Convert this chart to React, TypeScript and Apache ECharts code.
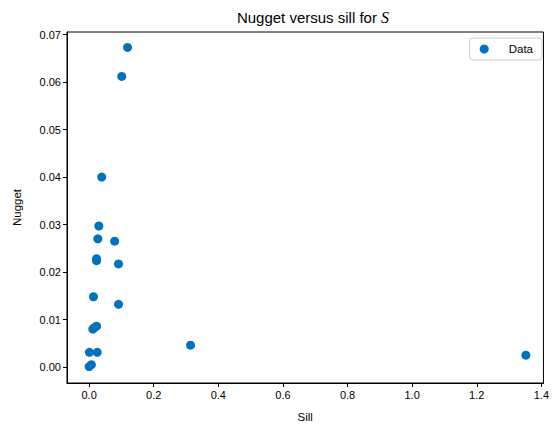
import React, { useEffect, useRef } from "react";
import * as echarts from "echarts";

const sill = [0.119, 0.101, 0.039, 0.030, 0.027, 0.079, 0.023, 0.023, 0.091, 0.0135, 0.091, 0.023, 0.0115, 0.017, 0.001, 0.025, 0.314, 0.0, 0.007, 1.352];
const nugget = [0.0673, 0.0612, 0.0400, 0.0297, 0.0270, 0.0265, 0.0228, 0.0224, 0.0217, 0.0148, 0.0132, 0.0086, 0.0080, 0.0083, 0.0031, 0.0031, 0.0046, 0.0001, 0.0005, 0.0025];
const xTicks = [0, 0.2, 0.4, 0.6, 0.8, 1.0, 1.2, 1.4];
const yTicks = [0, 0.01, 0.02, 0.03, 0.04, 0.05, 0.06, 0.07];

const FONT = "Liberation Sans, Arial, sans-serif";

export default function App() {
  const ref = useRef<HTMLDivElement>(null);
  useEffect(() => {
    const chart = echarts.init(ref.current!, null, { renderer: "svg" });
    const data = sill.map((s, i) => [s, nugget[i]]);
    chart.setOption({
      animation: false,
      backgroundColor: "#ffffff",
      textStyle: { fontFamily: FONT },
      title: {
        text: "Nugget versus sill for {it|S}",
        left: 308,
        textAlign: "center",
        top: 4,
        textStyle: {
          fontFamily: FONT,
          fontSize: 15,
          fontWeight: "normal",
          color: "#000",
          rich: {
            it: { fontFamily: "Liberation Serif, serif", fontStyle: "italic", fontSize: 16, color: "#000" },
          },
        },
      },
      legend: {
        right: 10,
        top: 38,
        padding: [5, 9, 5, 10],
        itemWidth: 17,
        itemHeight: 9,
        icon: "circle",
        borderColor: "#cccccc",
        borderWidth: 1,
        borderRadius: 3,
        textStyle: { fontFamily: FONT, fontSize: 11.5, color: "#000", padding: [0, 0, 0, 11] },
        data: ["Data"],
      },
      grid: {
        left: 67,
        right: 7,
        top: 32,
        bottom: 37,
        show: true,
        borderColor: "#000",
        borderWidth: 1,
        containLabel: false,
      },
      xAxis: {
        type: "value",
        min: -0.0685,
        max: 1.4065,
        name: "Sill",
        nameLocation: "middle",
        nameGap: 28,
        nameTextStyle: { fontFamily: FONT, fontSize: 11.5, color: "#000" },
        splitLine: { show: false },
        axisLine: { show: true, onZero: false, lineStyle: { color: "#000", width: 1 } },
        axisTick: { show: true, length: 4, lineStyle: { color: "#000" }, customValues: xTicks },
        axisLabel: {
          fontFamily: FONT,
          fontSize: 11,
          color: "#000",
          margin: 6,
          customValues: xTicks,
          formatter: (v: number) => v.toFixed(1),
        },
      },
      yAxis: {
        type: "value",
        min: -0.00337,
        max: 0.07056,
        name: "Nugget",
        nameLocation: "middle",
        nameGap: 44,
        nameTextStyle: { fontFamily: FONT, fontSize: 11.5, color: "#000" },
        splitLine: { show: false },
        axisLine: { show: true, onZero: false, lineStyle: { color: "#000", width: 1 } },
        axisTick: { show: true, length: 4, lineStyle: { color: "#000" }, customValues: yTicks },
        axisLabel: {
          fontFamily: FONT,
          fontSize: 11,
          color: "#000",
          margin: 6,
          customValues: yTicks,
          formatter: (v: number) => v.toFixed(2),
        },
      },
      series: [
        {
          name: "Data",
          type: "scatter",
          data,
          symbol: "circle",
          symbolSize: 9,
          itemStyle: { color: "#0072BD", opacity: 1 },
        },
      ],
    });
    return () => chart.dispose();
  }, []);
  return <div ref={ref} style={{ width: 552, height: 428, position: "absolute", left: 0, top: 0 }} />;
}
